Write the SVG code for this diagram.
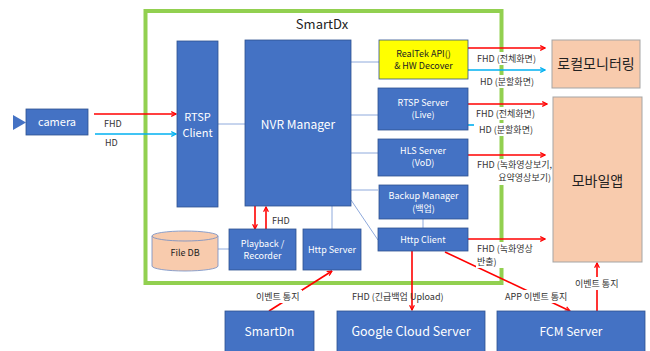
<svg xmlns="http://www.w3.org/2000/svg" width="650" height="351" viewBox="0 0 650 351">
<defs>
<style>
.box{fill:#4472C4;stroke:#2F528F;stroke-width:0.8}
.peach{fill:#F8CBAD;stroke:#A5A5A5;stroke-width:1}
.wt{fill:#fff;font-family:"Noto Sans CJK KR","Liberation Sans",sans-serif;text-anchor:middle}
.bt{fill:#222;font-family:"Noto Sans CJK KR","Liberation Sans",sans-serif}
.lbl{fill:#333;font-family:"Noto Sans CJK KR","Liberation Sans",sans-serif;font-size:9px}
.thin{stroke:#8FAADC;stroke-width:1;fill:none}
.red{stroke:#FF0000;stroke-width:1.6;fill:none}
.cyan{stroke:#00B0F0;stroke-width:1.6;fill:none}
.bg{fill:#fff}
</style>
<marker id="ar" viewBox="0 0 10 10" refX="9" refY="5" markerWidth="6" markerHeight="6" orient="auto-start-reverse" markerUnits="userSpaceOnUse"><path d="M1,1 L9,5 L1,9" fill="none" stroke="#FF0000" stroke-width="2"/></marker>
<marker id="ac" viewBox="0 0 10 10" refX="9" refY="5" markerWidth="6" markerHeight="6" orient="auto" markerUnits="userSpaceOnUse"><path d="M1,1 L9,5 L1,9" fill="none" stroke="#00B0F0" stroke-width="2"/></marker>
</defs>
<rect width="650" height="351" fill="#fff"/>

<g id="smartdx">
<rect x="145.5" y="11" width="356" height="272" fill="none" stroke="#92D050" stroke-width="4"/>
<text x="322" y="29" class="bt" font-size="13" text-anchor="middle">SmartDx</text>
</g>

<g id="connectors">
<line class="thin" x1="218" y1="124" x2="245" y2="124"/>
<line class="thin" x1="351" y1="62" x2="379" y2="62"/>
<line class="thin" x1="351" y1="115" x2="378" y2="115"/>
<line class="thin" x1="351" y1="153" x2="378" y2="153"/>
<line class="thin" x1="351" y1="190" x2="378" y2="190"/>
<line class="thin" x1="351" y1="200" x2="378" y2="240"/>
<line class="thin" x1="332" y1="206" x2="332" y2="229"/>
<line class="thin" x1="423" y1="219" x2="423" y2="228"/>
<line class="thin" x1="218" y1="249" x2="229" y2="249"/>
<line class="red" x1="94" y1="114" x2="176" y2="114" marker-end="url(#ar)"/>
<line class="cyan" x1="95" y1="134" x2="176" y2="134" marker-end="url(#ac)"/>
<line class="red" x1="468" y1="48" x2="545" y2="48" marker-end="url(#ar)"/>
<line class="cyan" x1="468" y1="70" x2="545" y2="70" marker-end="url(#ac)"/>
<line class="red" x1="468" y1="104" x2="547" y2="104" marker-end="url(#ar)"/>
<line class="cyan" x1="468" y1="125" x2="474" y2="125"/>
<line class="red" x1="468" y1="155" x2="545" y2="155" marker-end="url(#ar)"/>
<line class="red" x1="468" y1="239" x2="545" y2="239" marker-end="url(#ar)"/>
<line class="red" x1="255" y1="206" x2="255" y2="229" marker-end="url(#ar)"/>
<line class="red" x1="266" y1="229" x2="266" y2="207" marker-end="url(#ar)"/>
<line class="red" x1="412" y1="251" x2="412" y2="310" marker-end="url(#ar)"/>
<line class="red" x1="445" y1="252" x2="570" y2="311" marker-end="url(#ar)"/>
<line class="red" x1="269" y1="311" x2="332" y2="271" marker-end="url(#ar)"/>
<line class="red" x1="597" y1="311" x2="597" y2="263" marker-end="url(#ar)"/>
</g>

<g id="labels">
<text x="104" y="127" class="lbl" font-size="10">FHD</text>
<text x="105" y="146" class="lbl" font-size="10">HD</text>
<rect class="bg" x="476" y="52" width="62" height="13"/>
<text x="477" y="62" class="lbl">FHD (전체화면)</text>
<rect class="bg" x="479" y="75" width="56" height="13"/>
<text x="480" y="85" class="lbl">HD (분할화면)</text>
<rect class="bg" x="475" y="107" width="63" height="13"/>
<text x="476" y="117" class="lbl">FHD (전체화면)</text>
<rect class="bg" x="474" y="123" width="61" height="13"/>
<text x="479" y="133" class="lbl">HD (분할화면)</text>
<rect class="bg" x="476" y="159" width="77" height="26"/>
<text x="477" y="168" class="lbl">FHD (녹화영상보기,</text>
<text x="551" y="181" class="lbl" text-anchor="end">요약영상보기)</text>
<rect class="bg" x="476" y="242" width="58" height="26"/>
<text x="477" y="252" class="lbl">FHD (녹화영상</text>
<text x="477" y="265" class="lbl">반출)</text>
<text x="272" y="224" class="lbl" font-size="10">FHD</text>
<text x="352" y="300" class="lbl">FHD (긴급백업 Upload)</text>
<rect class="bg" x="503" y="290" width="69" height="13"/>
<text x="505" y="300" class="lbl">APP 이벤트 통지</text>
<rect class="bg" x="254" y="290" width="48" height="13"/>
<text x="256" y="300" class="lbl">이벤트 통지</text>
<rect class="bg" x="573" y="277" width="46" height="13"/>
<text x="575" y="287" class="lbl">이벤트 통지</text>
</g>

<g id="camera">
<polygon points="13,115 26,122.5 13,130" fill="#4472C4"/>
<rect class="box" x="26" y="109" width="62" height="26"/>
<text x="57" y="126" class="wt" font-size="11">camera</text>
</g>
<g id="rtsp-client">
<rect class="box" x="177" y="41" width="41" height="166"/>
<text x="197.5" y="121" class="wt" font-size="11">RTSP</text>
<text x="197.5" y="137" class="wt" font-size="11">Client</text>
</g>
<g id="nvr-manager">
<rect class="box" x="245" y="40" width="106" height="166"/>
<text x="298" y="129" class="wt" font-size="12">NVR Manager</text>
</g>
<g id="realtek">
<rect x="379" y="40" width="89" height="39" fill="#FFFF00" stroke="#2F528F" stroke-width="0.8"/>
<text x="423.5" y="57" class="bt" font-size="9" text-anchor="middle">RealTek API()</text>
<text x="423.5" y="69" class="bt" font-size="9" text-anchor="middle">&amp; HW Decover</text>
</g>
<g id="rtsp-server">
<rect class="box" x="378" y="88" width="90" height="42"/>
<text x="423" y="106" class="wt" font-size="9">RTSP Server</text>
<text x="423" y="118" class="wt" font-size="9">(Live)</text>
</g>
<g id="hls-server">
<rect class="box" x="378" y="139" width="90" height="37"/>
<text x="423" y="154" class="wt" font-size="9">HLS Server</text>
<text x="423" y="166" class="wt" font-size="9">(VoD)</text>
</g>
<g id="backup-manager">
<rect class="box" x="379" y="185" width="89" height="34"/>
<text x="423.5" y="199" class="wt" font-size="9">Backup Manager</text>
<text x="423.5" y="212" class="wt" font-size="9">(백업)</text>
</g>
<g id="http-client">
<rect class="box" x="378" y="228" width="90" height="23"/>
<text x="423" y="243" class="wt" font-size="9">Http Client</text>
</g>
<g id="http-server">
<rect class="box" x="303" y="229" width="58" height="41"/>
<text x="332" y="253" class="wt" font-size="9">Http Server</text>
</g>
<g id="playback">
<rect class="box" x="229" y="229" width="67" height="41"/>
<text x="262.5" y="247" class="wt" font-size="9">Playback /</text>
<text x="262.5" y="259" class="wt" font-size="9">Recorder</text>
</g>
<g id="file-db">
<path d="M152,236 L152,266 A33,5 0 0 0 218,266 L218,236" fill="#F8CBAD" stroke="#6F8BC4" stroke-width="0.8"/>
<ellipse cx="185" cy="236" rx="33" ry="5" fill="#F8CBAD" stroke="#6F8BC4" stroke-width="0.8"/>
<text x="185" y="256" class="bt" font-size="9" text-anchor="middle">File DB</text>
</g>
<g id="local-monitoring">
<rect class="peach" x="552" y="40" width="88" height="48"/>
<text x="596" y="69" class="bt" font-size="14" text-anchor="middle">로컬모니터링</text>
</g>
<g id="mobile-app">
<rect class="peach" x="553" y="97" width="89" height="165"/>
<text x="597.5" y="186" class="bt" font-size="14" text-anchor="middle">모바일앱</text>
</g>
<g id="smartdn">
<rect class="box" x="225" y="311" width="89" height="41"/>
<text x="269.5" y="336" class="wt" font-size="12">SmartDn</text>
</g>
<g id="google-cloud">
<rect class="box" x="337" y="311" width="148" height="41"/>
<text x="411" y="336" class="wt" font-size="12.5">Google Cloud Server</text>
</g>
<g id="fcm-server">
<rect class="box" x="497" y="311" width="148" height="41"/>
<text x="571" y="336" class="wt" font-size="12">FCM Server</text>
</g>
</svg>
